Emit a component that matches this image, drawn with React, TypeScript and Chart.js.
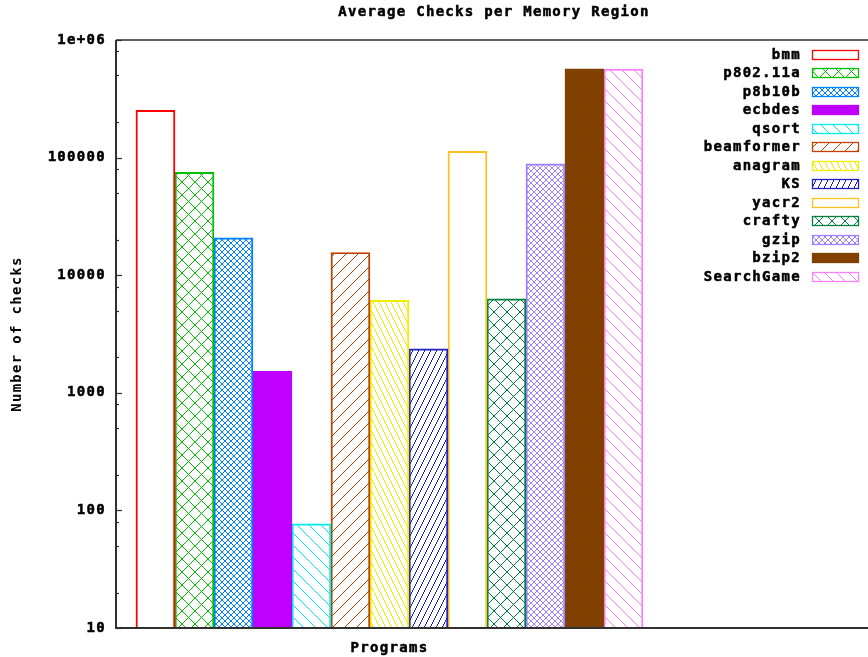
import React, { useEffect, useRef } from 'react';
import { Chart, registerables } from 'chart.js';

Chart.register(...registerables);

// ---- data ----
const chartTitle = 'Average Checks per Memory Region';
const yAxisTitle = 'Number of checks';
const categoryLabel = 'Programs';
const seriesNames = ['bmm', 'p802.11a', 'p8b10b', 'ecbdes', 'qsort', 'beamformer', 'anagram', 'KS', 'yacr2', 'crafty', 'gzip', 'bzip2', 'SearchGame'];
const seriesValues = [252000, 75000, 20800, 1520, 77, 15600, 6100, 2360, 113000, 6300, 88400, 570000, 565000];
const seriesColors = ['#ff0000', '#00c000', '#0080ff', '#c000ff', '#00eeee', '#c04000', '#eeee00', '#2020c0', '#ffc020', '#008040', '#a080ff', '#804000', '#ff80ff'];
const seriesPatterns = ['empty', 'cross', 'fine', 'solid', 'back', 'fwd', 'back2', 'fwd2', 'empty', 'cross', 'fine', 'solid', 'back'];
const yTickValues = [10, 100, 1000, 10000, 100000, 1000000];
const yTickLabels = ['10', '100', '1000', '10000', '100000', '1e+06'];
const yMinorMultipliers = [2, 5, 8];

const FONT_FAMILY = '"DejaVu Sans Mono", "Liberation Mono", monospace';
const FONT_SIZE = 14;
const LETTER_SPACING = '1.3px';
const STROKE_W = 0.5;
const AXIS_COLOR = '#303030';

function makeFill(kind: string, color: string): any {
  if (kind === 'empty') return 'rgba(255,255,255,0)';
  if (kind === 'solid') return color;
  const c = document.createElement('canvas');
  let w = 12;
  let h = 12;
  const pts: number[][] = [];
  if (kind === 'cross') {
    w = 13; h = 13;
    for (let i = 0; i < 13; i++) { pts.push([i, i]); pts.push([12 - i, i]); }
  } else if (kind === 'fine') {
    w = 6; h = 6;
    for (let i = 0; i < 6; i++) { pts.push([i, i]); pts.push([5 - i, i]); }
  } else if (kind === 'back') {
    w = 12; h = 12;
    for (let i = 0; i < 12; i++) pts.push([i, i]);
  } else if (kind === 'fwd') {
    w = 12; h = 12;
    for (let i = 0; i < 12; i++) pts.push([11 - i, i]);
  } else if (kind === 'back2') {
    w = 6; h = 12;
    for (let j = 0; j < 12; j++) pts.push([Math.floor(j / 2), j]);
  } else if (kind === 'fwd2') {
    w = 6; h = 12;
    for (let j = 0; j < 12; j++) pts.push([5 - Math.floor(j / 2), j]);
  }
  c.width = w;
  c.height = h;
  const g = c.getContext('2d') as CanvasRenderingContext2D;
  g.fillStyle = color;
  for (const p of pts) g.fillRect(p[0], p[1], 1, 1);
  return g.createPattern(c, 'repeat');
}

const fontStr = `bold ${FONT_SIZE}px ${FONT_FAMILY}`;

function drawText(ctx: CanvasRenderingContext2D, text: string, x: number, y: number) {
  ctx.fillText(text, x, y);
  ctx.lineWidth = STROKE_W;
  ctx.strokeStyle = '#000000';
  ctx.strokeText(text, x, y);
}

const framePlugin = {
  id: 'gnuframe',
  beforeUpdate(chart: any) {
    chart.ctx.letterSpacing = LETTER_SPACING;
  },
  beforeDraw(chart: any) {
    const ctx = chart.ctx;
    ctx.letterSpacing = LETTER_SPACING;
    ctx.save();
    ctx.fillStyle = '#ffffff';
    ctx.fillRect(0, 0, chart.width, chart.height);
    ctx.restore();
  },
  afterDraw(chart: any) {
    const ctx = chart.ctx as CanvasRenderingContext2D;
    const a = chart.chartArea;
    const y = chart.scales.y;
    ctx.save();
    (ctx as any).letterSpacing = LETTER_SPACING;
    // axes / border
    ctx.strokeStyle = AXIS_COLOR;
    ctx.lineWidth = 2;
    ctx.beginPath();
    ctx.moveTo(a.left, a.top);
    ctx.lineTo(a.left, a.bottom);
    ctx.lineTo(a.right, a.bottom);
    ctx.stroke();
    ctx.lineWidth = 1.5;
    ctx.beginPath();
    ctx.moveTo(a.left, a.top);
    ctx.lineTo(a.right, a.top);
    ctx.stroke();
    // ticks (inward)
    ctx.lineWidth = 1.2;
    for (const v of yTickValues) {
      const p = Math.round(y.getPixelForValue(v)) + 0.5;
      ctx.beginPath();
      ctx.moveTo(a.left, p);
      ctx.lineTo(a.left + 6, p);
      ctx.stroke();
    }
    for (const d of yTickValues.slice(0, -1)) {
      for (const m of yMinorMultipliers) {
        const p = Math.round(y.getPixelForValue(d * m)) + 0.5;
        ctx.beginPath();
        ctx.moveTo(a.left, p);
        ctx.lineTo(a.left + 3, p);
        ctx.stroke();
      }
    }
    // title
    ctx.font = fontStr;
    ctx.fillStyle = '#000000';
    ctx.textAlign = 'center';
    ctx.textBaseline = 'middle';
    drawText(ctx, chartTitle, (a.left + a.right) / 2 + 2, 12);
    // legend
    const textRight = 801;
    const boxLeft = 812;
    const boxW = 46;
    const boxH = 9;
    const rowTop = 54;
    const rowStep = 18.5;
    chart.data.datasets.forEach((ds: any, i: number) => {
      const cy = rowTop + i * rowStep;
      ctx.textAlign = 'right';
      ctx.textBaseline = 'middle';
      ctx.fillStyle = '#000000';
      drawText(ctx, ds.label, textRight, cy + 1);
      const by = Math.round(cy - boxH / 2) + 0.5;
      ctx.fillStyle = ds.backgroundColor;
      ctx.fillRect(boxLeft + 0.5, by, boxW, boxH);
      ctx.strokeStyle = ds.borderColor;
      ctx.lineWidth = 1.3;
      ctx.strokeRect(boxLeft + 0.5, by, boxW, boxH);
    });
    ctx.restore();
  },
};

const tickFont = { family: FONT_FAMILY, size: FONT_SIZE, weight: 'bold' };

export default function App() {
  const ref = useRef<HTMLCanvasElement | null>(null);
  useEffect(() => {
    const canvas = ref.current;
    if (!canvas) return;
    const datasets = seriesNames.map((name, i) => ({
      label: name,
      data: [{ x: 0, y: seriesValues[i] }],
      backgroundColor: makeFill(seriesPatterns[i], seriesColors[i]),
      borderColor: seriesColors[i],
      borderWidth: 1.3,
      borderSkipped: 'bottom',
      barThickness: 39,
    }));
    const chart = new Chart(canvas, {
      type: 'bar',
      data: { datasets },
      plugins: [framePlugin],
      options: {
        animation: false,
        responsive: false,
        maintainAspectRatio: false,
        layout: { padding: { top: 40, left: 0, right: 0, bottom: 0 } },
        plugins: {
          legend: { display: false },
          title: { display: false },
          tooltip: { enabled: false },
        },
        scales: {
          x: {
            type: 'linear',
            offset: false,
            min: -1,
            max: 1.75,
            grid: { display: false, drawTicks: false, offset: false },
            border: { display: false },
            afterBuildTicks: (s: any) => { s.ticks = [{ value: 0 }]; },
            afterFit: (s: any) => { s.height = 29; },
            ticks: {
              color: '#000000',
              font: tickFont,
              padding: 12,
              maxRotation: 0,
              textStrokeColor: '#000000',
              textStrokeWidth: STROKE_W,
              callback: () => categoryLabel,
            },
          },
          y: {
            type: 'logarithmic',
            min: yTickValues[0],
            max: yTickValues[yTickValues.length - 1],
            grid: { display: false, drawTicks: false },
            border: { display: false },
            afterBuildTicks: (s: any) => { s.ticks = yTickValues.map((v) => ({ value: v })); },
            afterFit: (s: any) => { s.width = 116; },
            title: {
              display: true,
              text: yAxisTitle,
              color: '#000000',
              font: tickFont,
              padding: { top: 9, bottom: 0 },
            },
            ticks: {
              color: '#000000',
              font: tickFont,
              padding: 10,
              textStrokeColor: '#000000',
              textStrokeWidth: STROKE_W,
              callback: (v: any) => {
                const idx = yTickValues.indexOf(Number(v));
                return idx >= 0 ? yTickLabels[idx] : '';
              },
            },
          },
        },
      } as any,
    });
    return () => chart.destroy();
  }, []);
  return (
    <div style={{ position: 'absolute', left: 0, top: 0, width: 868, height: 657 }}>
      <canvas ref={ref} width={868} height={657} style={{ display: 'block' }} />
    </div>
  );
}
